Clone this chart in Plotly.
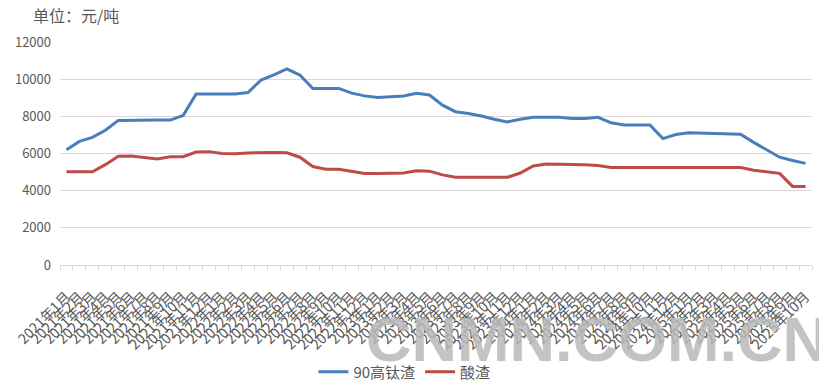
import plotly.graph_objects as go

months = [f"{y}年{m}月" for y in range(2021, 2026) for m in range(1, 13)][:58]

high_ti = [6200, 6650, 6870, 7250, 7780, 7800, 7800, 7800, 7800, 8050,
           9200, 9200, 9200, 9200, 9280, 9950, 10230, 10550, 10220, 9500,
           9500, 9500, 9250, 9100, 9020, 9050, 9090, 9240, 9150, 8600,
           8250, 8150, 8020, 7840, 7700, 7840, 7950, 7950, 7950, 7880,
           7880, 7950, 7650, 7530, 7530, 7530, 6800, 7020, 7120, 7090,
           7070, 7060, 7030, 6600, 6180, 5800, 5620, 5470]

acid_slag = [5020, 5020, 5020, 5400, 5850, 5860, 5800, 5700, 5820, 5830,
             6080, 6100, 6000, 5980, 6030, 6060, 6050, 6040, 5800, 5300,
             5150, 5150, 5030, 4930, 4930, 4930, 4950, 5070, 5050, 4850,
             4720, 4720, 4720, 4720, 4720, 4950, 5330, 5430, 5430, 5430,
             5400, 5350, 5250, 5250, 5250, 5250, 5250, 5250, 5250, 5250,
             5250, 5250, 5250, 5100, 5000, 4930, 4230, 4230]

y_ticks = [0, 2000, 4000, 6000, 8000, 10000, 12000]
y_labels = [str(v) for v in y_ticks]

FONT = "Noto Sans CJK SC"
GREY = "#595959"

fig = go.Figure()
fig.add_trace(go.Scatter(x=months, y=high_ti, name="90高钛渣", mode="lines",
                         line=dict(color="#4A7EBB", width=3)))
fig.add_trace(go.Scatter(x=months, y=acid_slag, name="酸渣", mode="lines",
                         line=dict(color="#BE4B48", width=3)))

fig.update_layout(
    width=819, height=387,
    margin=dict(l=60, r=7, t=42, b=122, autoexpand=False),
    paper_bgcolor="white", plot_bgcolor="white",
    font=dict(family=FONT, color=GREY, size=12),
    showlegend=True,
    legend=dict(orientation="h", x=0.458, xanchor="center", y=-0.48, yanchor="middle",
                font=dict(size=15, color=GREY, family=FONT),
                itemwidth=30, bgcolor="rgba(0,0,0,0)"),
    xaxis=dict(type="category", tickmode="linear", dtick=1, tick0=0,
               tickangle=-45, tickson="boundaries", ticks="outside", ticklen=5,
               tickcolor="#D9D9D9", showline=True, linecolor="#D9D9D9", linewidth=1,
               showgrid=False, tickfont=dict(size=14, color=GREY, family=FONT),
               ticklabelstandoff=17, range=[-0.5, 57.5], automargin=False),
    yaxis=dict(range=[0, 12000], tickvals=y_ticks, ticktext=y_labels, showgrid=True,
               gridcolor="#D9D9D9", gridwidth=1, zeroline=False, showline=False,
               ticks="", tickfont=dict(size=13, color=GREY, family=FONT),
               ticklabelstandoff=8, automargin=False),
    annotations=[
        dict(text="单位：元/吨", xref="paper", yref="paper", x=-0.039, y=1.12,
             xanchor="left", yanchor="middle", showarrow=False,
             font=dict(size=16, color=GREY, family=FONT)),
        dict(text="<b>CNMN.COM.CN</b>", xref="paper", yref="paper",
             x=0.404, y=-0.165, xanchor="left", yanchor="top", showarrow=False,
             font=dict(size=63, color="rgba(185,185,185,0.85)",
                       family="Liberation Sans")),
    ],
)

fig.write_html("out.html", config={"displayModeBar": False},
               post_script="document.body.style.margin='0';document.body.style.padding='0';")
